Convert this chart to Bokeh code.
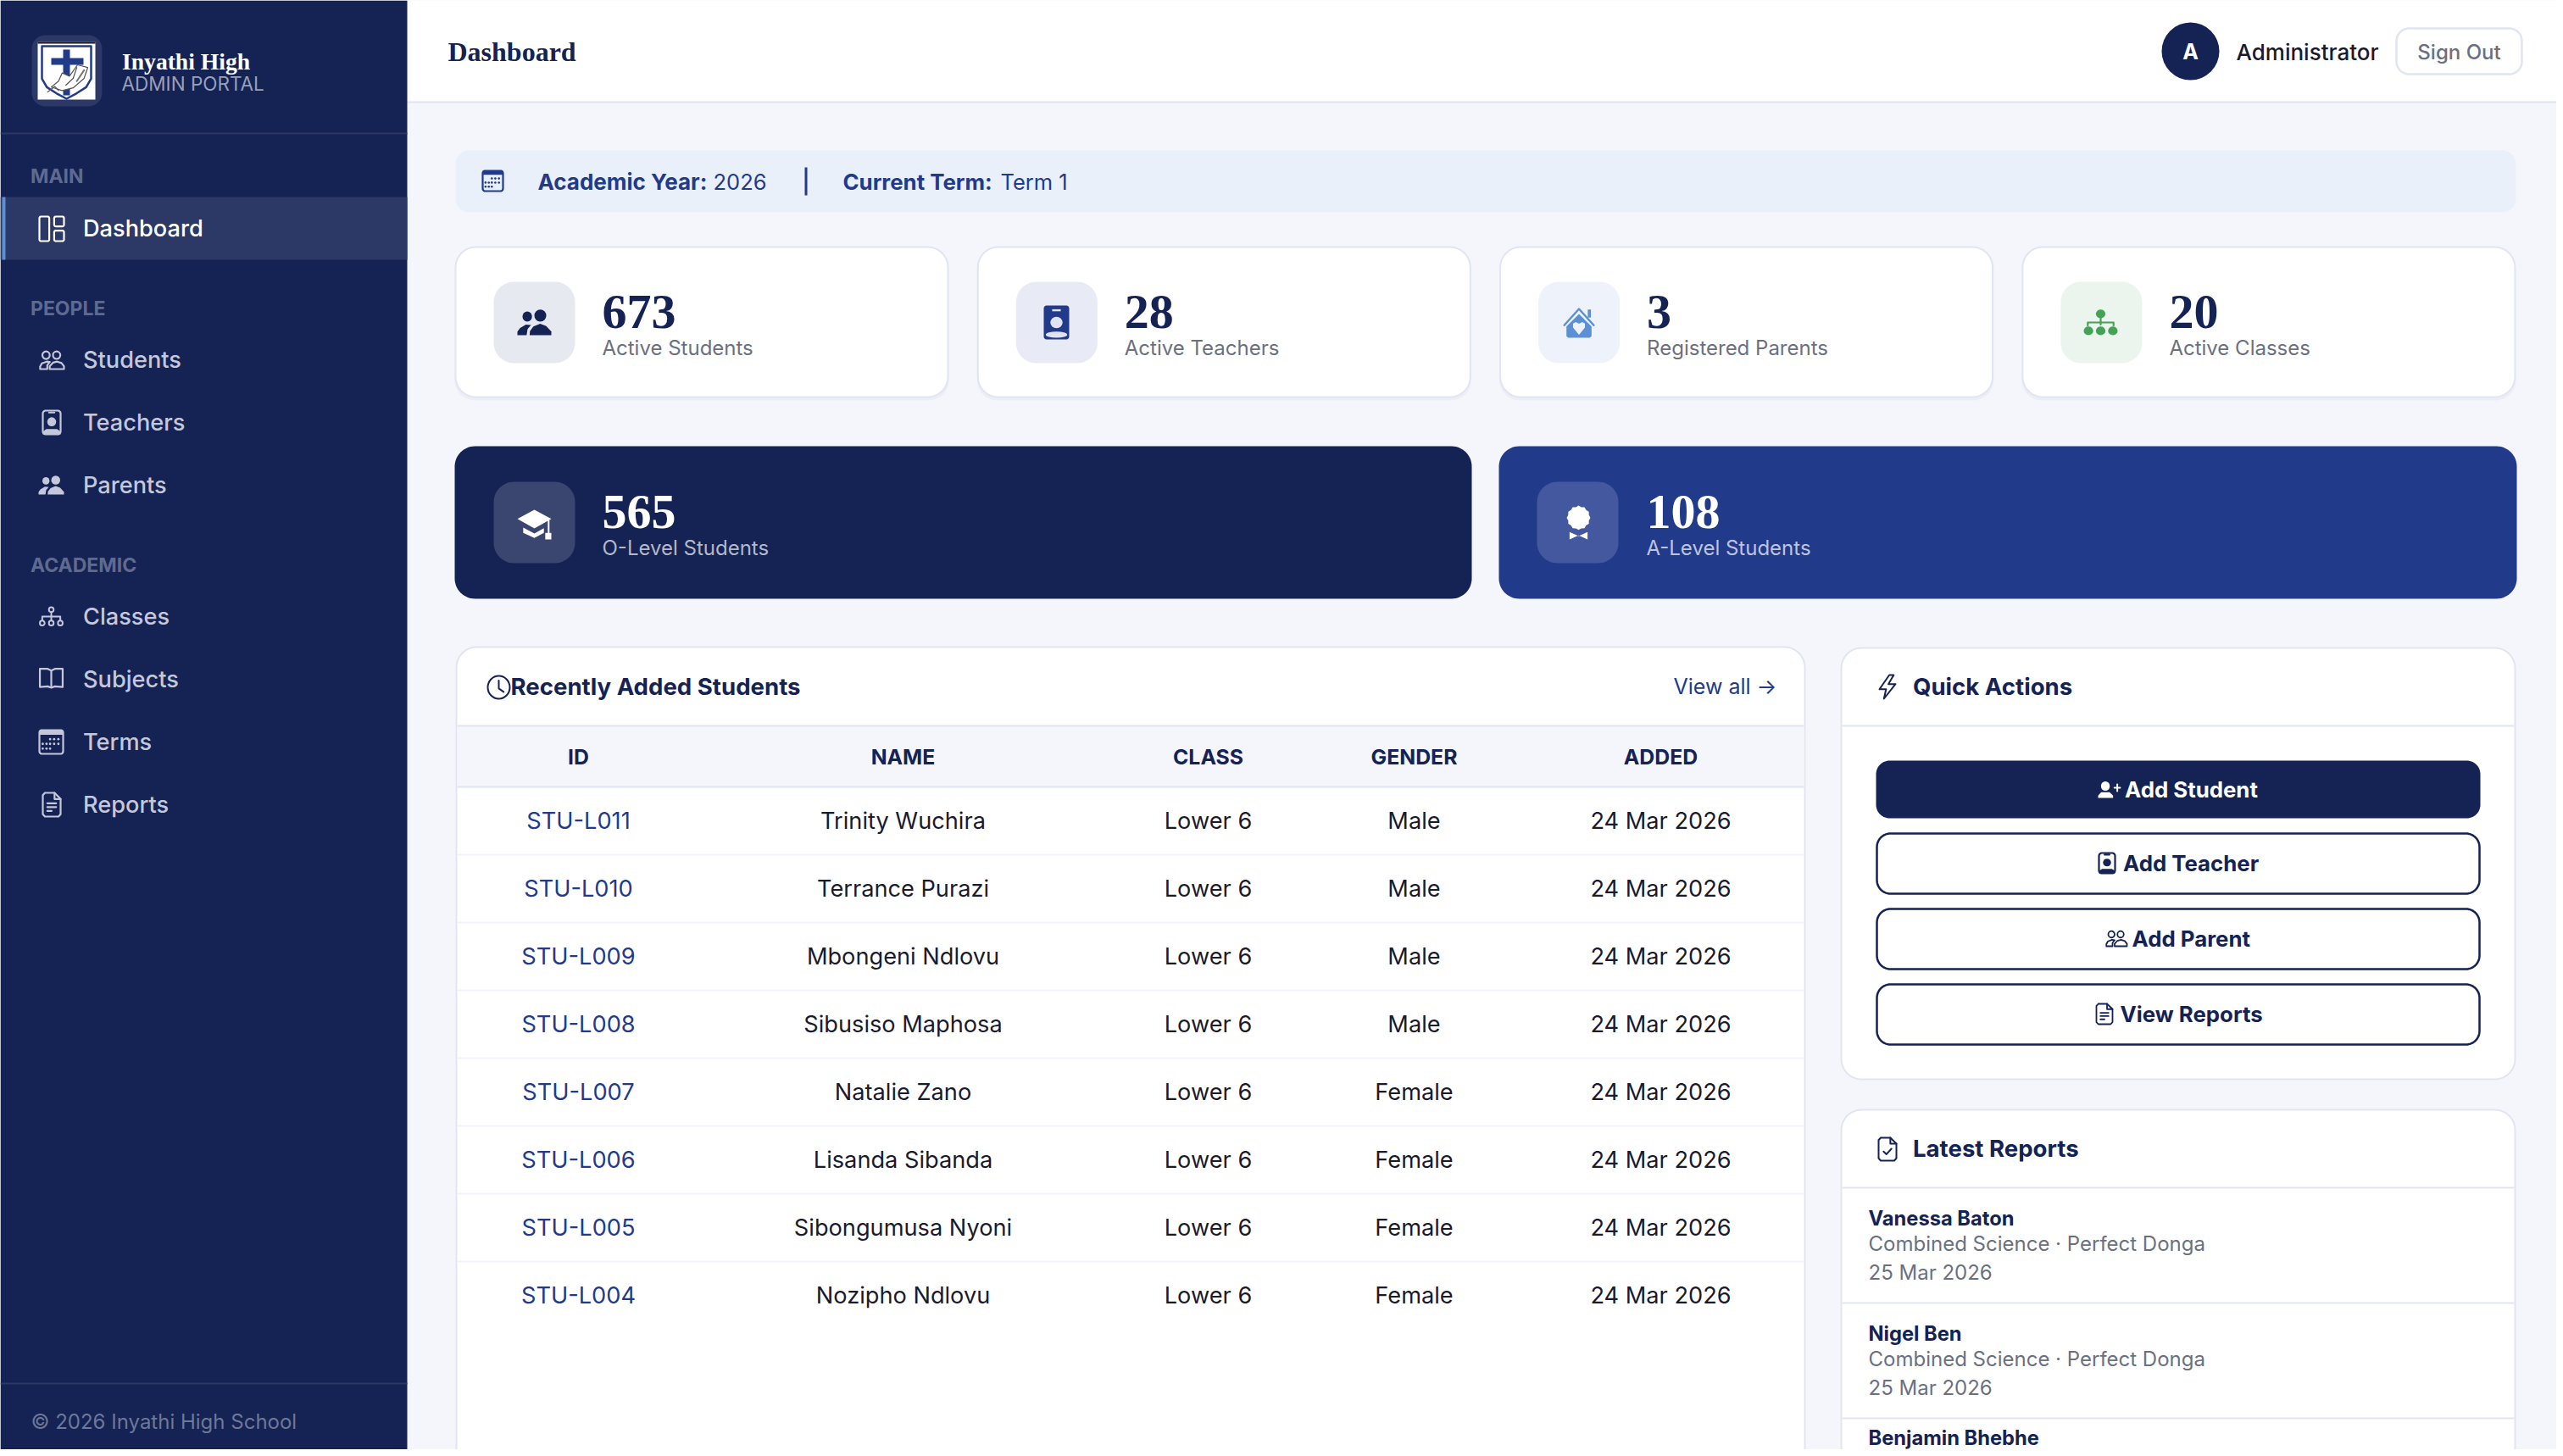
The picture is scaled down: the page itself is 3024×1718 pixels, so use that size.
import math
from bokeh.plotting import figure
from bokeh.models import Range1d
from bokeh.core.properties import value
from bokeh.embed import file_html
from bokeh.resources import INLINE

# ---------- content ----------
nav_main = ["Dashboard"]
nav_people = ["Students", "Teachers", "Parents"]
nav_academic = ["Classes", "Subjects", "Terms", "Reports"]
section_labels = ["MAIN", "PEOPLE", "ACADEMIC"]
stat_values = [673, 28, 3, 20]
stat_labels = ["Active Students", "Active Teachers", "Registered Parents", "Active Classes"]
level_values = [565, 108]
level_labels = ["O-Level Students", "A-Level Students"]
table_columns = ["ID", "NAME", "CLASS", "GENDER", "ADDED"]
student_ids = ["STU-L011", "STU-L010", "STU-L009", "STU-L008", "STU-L007", "STU-L006", "STU-L005", "STU-L004"]
student_names = ["Trinity Wuchira", "Terrance Purazi", "Mbongeni Ndlovu", "Sibusiso Maphosa",
                 "Natalie Zano", "Lisanda Sibanda", "Sibongumusa Nyoni", "Nozipho Ndlovu"]
student_classes = ["Lower 6"] * 8
student_genders = ["Male", "Male", "Male", "Male", "Female", "Female", "Female", "Female"]
student_added = ["24 Mar 2026"] * 8
action_labels = ["Add Student", "Add Teacher", "Add Parent", "View Reports"]
report_students = ["Vanessa Baton", "Nigel Ben", "Benjamin Bhebhe"]
report_subjects = ["Combined Science · Perfect Donga", "Combined Science · Perfect Donga", ""]
report_dates = ["25 Mar 2026", "25 Mar 2026", ""]

# ---------- style ----------
NAVY = "#142254"; BLUE = "#223A8A"; BG = "#F4F6FB"; EDGE = "#E1E5F1"; ACTIVE = "#2C3865"
INK = "#1A1A2E"; GREY = "#6B7080"; SKY = "#5B8FD6"; GREEN = "#43A255"; ROWLINE = "#F1F3F9"
SHADOW = "#ECEEF6"
SANS = "Inter"; MED = "Inter Medium"; SERIF = "Liberation Serif"
W, H = 3016, 1710
BASE_K = 0.33

p = figure(width=W, height=H, output_backend="svg", toolbar_location=None,
           x_range=Range1d(0, W), y_range=Range1d(H, 0),
           x_axis_type=None, y_axis_type=None, min_border=0, outline_line_color=None,
           background_fill_color=BG, border_fill_color=BG)
p.grid.visible = False


def arc(cx, cy, rx, ry, a0, a1, n=14):
    out = []
    for i in range(n + 1):
        a = math.radians(a0 + (a1 - a0) * i / n)
        out.append((cx + rx * math.cos(a), cy + ry * math.sin(a)))
    return out


def poly(pts, fill=None, line=None, lw=1):
    p.patch([q[0] for q in pts], [q[1] for q in pts], fill_color=fill, line_color=line,
            line_width=lw, line_join="round")


def path(pts, color, lw=2):
    p.line([q[0] for q in pts], [q[1] for q in pts], line_color=color, line_width=lw,
           line_cap="round", line_join="round")


def rr(x0, y0, x1, y1, r, fill=None, line=None, lw=1):
    pts = (arc(x0 + r, y0 + r, r, r, 180, 270) + arc(x1 - r, y0 + r, r, r, 270, 360) +
           arc(x1 - r, y1 - r, r, r, 0, 90) + arc(x0 + r, y1 - r, r, r, 90, 180))
    poly(pts, fill, line, lw)


def oval(cx, cy, rx, ry=None, fill=None, line=None, lw=1):
    p.ellipse(x=[cx], y=[cy], width=[2 * rx], height=[2 * (ry or rx)], fill_color=fill,
              line_color=line, line_width=lw)


def band(x0, y0, x1, y1, fill):
    p.quad(left=[x0], right=[x1], top=[y0], bottom=[y1], fill_color=fill, line_color=None)


def txt(x, yc, s, size, color, font=SANS, bold=False, align="left", base=None):
    y = base if base is not None else yc + 0.36 * size
    y -= BASE_K * size
    p.text(x=[x], y=[y], text=[s], text_font=value(font), text_font_size=f"{size}px", text_color=color,
           text_font_style="bold" if bold else "normal", text_align=align, text_baseline="alphabetic")


class B:
    def __init__(s, x0, y0, x1, y1):
        s.x0, s.y0, s.w, s.h = x0, y0, x1 - x0, y1 - y0

    def __call__(s, u, v):
        return (s.x0 + s.w * u, s.y0 + s.h * v)

    def pts(s, seq):
        return [s(u, v) for u, v in seq]


# ---------- icons (unit-box drawings) ----------
def ic_people_fill(b, c, bg=None):
    cx, cy = b(.29, .27); oval(cx, cy, .14 * b.w, .2 * b.h, fill=c)
    cx, cy = b(.675, .23); oval(cx, cy, .175 * b.w, .24 * b.h, fill=c)
    poly(b.pts([(0, 1), (0, .86), (.08, .72), (.25, .58), (.4, .6), (.3, .76), (.27, 1)]), fill=c)
    poly(b.pts([(.36, 1), (.37, .84), (.47, .66), (.67, .55), (.85, .64), (1, .86), (1, 1)]), fill=c)


def ic_people_line(b, c, lw=2.2):
    cx, cy = b(.27, .22); oval(cx, cy, .15 * b.w, .21 * b.h, line=c, lw=lw)
    cx, cy = b(.7, .22); oval(cx, cy, .15 * b.w, .21 * b.h, line=c, lw=lw)
    path(b.pts([(.03, 1), (.03, .86), (.1, .68), (.3, .58), (.42, .6), (.32, .78), (.32, 1), (.03, 1)]), c, lw)
    path(b.pts([(.42, 1), (.42, .84), (.55, .64), (.72, .58), (.9, .66), (1, .84), (1, 1), (.42, 1)]), c, lw)


def ic_badge_line(b, c, lw=2.2):
    rr(b.x0, b.y0, b.x0 + b.w, b.y0 + b.h, 3.5, line=c, lw=lw)
    path(b.pts([(.35, .08), (.65, .08)]), c, lw)
    cx, cy = b(.5, .47); oval(cx, cy, .25 * b.w, .19 * b.h, fill=c)
    poly(b.pts([(0, 1), (0, .88), (.2, .78), (.8, .78), (1, .88), (1, 1)]), fill=c)


def ic_badge_fill(b, c, light):
    rr(b.x0, b.y0, b.x0 + b.w, b.y0 + b.h, 3.5, fill=c)
    band(*b(.33, .11), *b(.67, .17), light)
    cx, cy = b(.5, .5); oval(cx, cy, .24 * b.w, .17 * b.h, fill=light)
    cx, cy = b(.5, .86); oval(cx, cy, .42 * b.w, .09 * b.h, fill=light)


def ic_house(b, c):
    path(b.pts([(.03, .58), (.5, .03), (.97, .58)]), c, 2.4)
    band(*b(.78, .05), *b(.88, .32), c)
    poly(b.pts([(.5, .2), (.9, .62), (.9, .95), (.84, 1), (.16, 1), (.1, .95), (.1, .62)]), fill=c)
    poly(b.pts([(.5, .9), (.31, .66), (.31, .52), (.4, .47), (.5, .53), (.6, .47), (.69, .52), (.69, .66)]),
         fill="#EEF3FB")


def ic_tree_fill(b, c):
    cx, cy = b(.5, .16); oval(cx, cy, .14 * b.w, .17 * b.h, fill=c)
    path(b.pts([(.5, .3), (.5, .58)]), c, 2.2)
    path(b.pts([(.12, .62), (.12, .5), (.88, .5), (.88, .62)]), c, 2.2)
    for u in (.14, .5, .86):
        cx, cy = b(u, .83); oval(cx, cy, .14 * b.w, .17 * b.h, fill=c)


def ic_tree_line(b, c, lw=2):
    cx, cy = b(.5, .13); oval(cx, cy, .1 * b.w, .13 * b.h, line=c, lw=lw)
    path(b.pts([(.5, .26), (.5, .68)]), c, lw)
    path(b.pts([(.12, .68), (.12, .5), (.88, .5), (.88, .68)]), c, lw)
    for u in (.12, .5, .88):
        cx, cy = b(u, .85); oval(cx, cy, .1 * b.w, .13 * b.h, line=c, lw=lw)


def ic_cap(b, c):
    poly(b.pts([(.5, 0), (1, .31), (.5, .63), (0, .31)]), fill=c)
    poly(b.pts([(.17, .6), (.5, .8), (.78, .62), (.78, .78), (.5, .95), (.17, .78)]), fill=c)
    path(b.pts([(.92, .36), (.92, .8)]), c, 2)
    band(*b(.82, .78), *b(1, 1), c)


def ic_award(b, c):
    cx, cy = b(.5, .36)
    pts = []
    for i in range(24):
        a = math.radians(15 * i)
        k = 1.0 if i % 2 == 0 else .9
        pts.append((cx + k * .5 * b.w * math.cos(a), cy + k * .36 * b.h * math.sin(a)))
    poly(pts, fill=c)
    poly(b.pts([(.12, .78), (.5, .9), (.88, .78), (.88, 1), (.5, .88), (.12, 1)]), fill=c)


def ic_calendar(b, c, lw=2.2):
    rr(b.x0, b.y0, b.x0 + b.w, b.y0 + b.h, 3, line=c, lw=lw)
    band(*b(0, 0), *b(1, .2), c)
    for v, us in ((.38, (.45, .62, .8)), (.58, (.14, .3, .45, .62, .8)), (.78, (.14, .3, .45))):
        for u in us:
            cx, cy = b(u, v); oval(cx, cy, max(1.3, .05 * b.w), fill=c)


def ic_book(b, c, lw=2.2):
    path(b.pts([(.5, .12), (.35, .03), (.02, .03), (.02, .96), (.35, .93), (.5, 1), (.65, .93), (.98, .96),
                (.98, .03), (.65, .03), (.5, .12), (.5, 1)]), c, lw)


def ic_file(b, c, lw=2.2, check=False):
    path(b.pts([(.12, 0), (.66, 0), (1, .26), (1, .9), (.88, 1), (.12, 1), (0, .9), (0, .1), (.12, 0)]), c, lw)
    path(b.pts([(.66, 0), (.66, .26), (1, .26)]), c, lw)
    if check:
        path(b.pts([(.28, .6), (.44, .72), (.72, .48)]), c, lw)
    else:
        for v, e in ((.44, .75), (.6, .75), (.76, .5)):
            path(b.pts([(.25, v), (e, v)]), c, lw)


def ic_layout(b, c, lw=2.2):
    rr(*b(0, 0), *b(.4, 1), 2, line=c, lw=lw)
    rr(*b(.6, 0), *b(1, .4), 2, line=c, lw=lw)
    rr(*b(.6, .57), *b(1, 1), 2, line=c, lw=lw)


def ic_bolt(b, c, lw=2):
    poly(b.pts([(.6, 0), (.05, .6), (.42, .6), (.3, 1), (.95, .38), (.55, .38), (.85, 0)]), line=c, lw=lw)


def ic_clock(b, c, lw=2):
    cx, cy = b(.5, .5); oval(cx, cy, .5 * b.w, .5 * b.h, line=c, lw=lw)
    path(b.pts([(.5, .2), (.5, .55), (.72, .7)]), c, lw)


def ic_person_plus(b, c):
    cx, cy = b(.33, .3); oval(cx, cy, .2 * b.w, .28 * b.h, fill=c)
    poly(b.pts([(0, 1), (0, .86), (.14, .66), (.52, .66), (.68, .86), (.68, 1)]), fill=c)
    path(b.pts([(.74, .4), (1, .4)]), c, 2)
    path(b.pts([(.87, .2), (.87, .6)]), c, 2)


def logo():
    rr(37, 41, 120, 125, 16, fill=ACTIVE)
    band(44, 49, 112, 117, "#FFFFFF")
    band(44, 49, 112, 51, "#151515")
    s = B(49, 54, 107, 116)
    poly(s.pts([(0, 0), (1, 0), (1, .62), (.9, .78), (.7, .9), (.5, 1), (.3, .9), (.1, .78), (0, .62)]),
         line=BLUE, lw=2.5)
    band(74, 58, 82, 112, BLUE)
    band(60, 68, 98, 76, BLUE)
    d = B(60, 76, 103, 108)
    poly(d.pts([(1, .1), (.9, .5), (.6, .85), (.3, .95), (0, .82), (.2, .6), (.3, .3), (.5, .42), (.72, 0)]),
         fill="#FFFFFF", line="#555555", lw=1.2)
    path(d.pts([(.7, .1), (.6, .5), (.4, .75)]), "#555555", 1.2)
    path(d.pts([(.9, .2), (.7, .6)]), "#777777", 2)
    path(d.pts([(-.1, 1.0), (.1, .8), (.2, .95)]), "#555555", 1.2)


# ---------- chrome ----------
band(480, 0, W, 120, "#FFFFFF")
band(480, 119, W, 121, "#DFE3F0")
band(0, 0, 480, H, NAVY)
logo()
txt(143.5, None, "Inyathi High", 27.6, "#FFFFFF", SERIF, True, base=81)
txt(143, None, "ADMIN PORTAL", 22.5, "#9AA0B8", SANS, base=105)
band(0, 156, 480, 158, ACTIVE)
band(0, 1631, 480, 1633, ACTIVE)
txt(36, 1676.5, "© 2026 Inyathi High School", 24, "#6E7898", SANS)
txt(528, None, "Dashboard", 32, NAVY, SERIF, True, base=71.5)

# sidebar navigation
band(0, 232, 480, 306, ACTIVE)
band(2, 232, 6, 306, SKY)
NAVC = "#C4C8DA"
for lab, yc in zip(section_labels, (207, 362.5, 665.5)):
    txt(35.5, yc, lab, 23, "#5F6A90", SANS, True)
NAV_X = 97.5
for lab, yc in zip(nav_main, (268,)):
    txt(NAV_X, yc, lab, 27.2, "#FFFFFF", MED)
for lab, yc in zip(nav_people, (423, 497, 571)):
    txt(NAV_X, yc, lab, 27.2, NAVC, MED)
for lab, yc in zip(nav_academic, (726, 800, 874, 948)):
    txt(NAV_X, yc, lab, 27.2, NAVC, MED)
ic_layout(B(46, 255, 75, 284), "#FFFFFF")
ic_people_line(B(46, 414, 75, 435), NAVC)
ic_badge_line(B(50, 484, 71, 512), NAVC)
ic_people_fill(B(45, 561, 75, 583), NAVC)
ic_tree_line(B(46, 716, 74, 738), NAVC)
ic_book(B(46, 788, 74, 811), NAVC)
ic_calendar(B(46, 861, 74, 889), NAVC)
ic_file(B(50, 935, 71, 963), NAVC)

# user area
oval(2584, 60, 34, fill=NAVY)
txt(2584, 60, "A", 25, "#FFFFFF", SANS, True, align="center")
txt(2638, 60, "Administrator", 26, INK, MED)
rr(2827, 33, 2975, 87, 15, fill="#FFFFFF", line=EDGE, lw=2.5)
txt(2901, 60, "Sign Out", 24, GREY, MED, align="center")

# academic banner
rr(537, 177, 2968, 250, 16, fill="#E9F0FA")
ic_calendar(B(569, 201, 593, 225), BLUE)
txt(634, 213, "Academic Year:", 26, BLUE, SANS, True)
txt(841, 213, "2026", 25.5, BLUE)
band(949, 197, 952, 230, BLUE)
txt(994, 213, "Current Term:", 25.8, BLUE, SANS, True)
txt(1180, 213, "Term 1", 25.5, BLUE)

# stat cards
CARD_W, CARD_STEP, CARD_X = 581, 616.3, 537
tints = ["#E7E9F0", "#E8EBF5", "#EEF3FB", "#EBF5EE"]
for i, (val, lab) in enumerate(zip(stat_values, stat_labels)):
    x = CARD_X + i * CARD_STEP
    rr(x - 1, 293, x + CARD_W + 1, 472, 24, fill=SHADOW)
    rr(x, 291, x + CARD_W, 468, 24, fill="#FFFFFF", line=EDGE, lw=2)
    rr(x + 45, 332, x + 141, 428, 24, fill=tints[i])
    txt(x + 173, None, str(val), 58, NAVY, SERIF, True, base=387)
    txt(x + 173, 409.5, lab, 24, GREY)
ic_people_fill(B(610, 365, 650, 395), NAVY)
ic_badge_fill(B(1231, 360, 1261, 400), BLUE, "#DFE3F5")
ic_house(B(1844, 363, 1881, 398), SKY)
ic_tree_fill(B(2458, 365, 2498, 395), GREEN)

# level cards
LV_X = (536, 1768)
LV_W = (1200, 1201)
lv_fill = (NAVY, BLUE)
lv_tint = ("#3A4570", "#4458A0")
lv_text = ("#B4B8C8", "#BCC4E0")
for i, (val, lab) in enumerate(zip(level_values, level_labels)):
    x = LV_X[i]
    rr(x, 526, x + LV_W[i], 706, 24, fill=lv_fill[i])
    rr(x + 46 - i, 568, x + 142 - i, 664, 24, fill=lv_tint[i])
    txt(x + 174, None, str(val), 58, "#FFFFFF", SERIF, True, base=623)
    txt(x + 174, 645.5, lab, 24, lv_text[i])
ic_cap(B(610, 601, 650, 636), "#FFFFFF")
ic_award(B(1848, 596, 1876, 636), "#FFFFFF")

# recent students table
rr(538, 763, 2129, 1790, 24, fill="#FFFFFF", line=EDGE, lw=2)
band(539, 855, 2128, 928, BG)
band(539, 855, 2128, 857, EDGE)
band(539, 927, 2128, 929, EDGE)
ic_clock(B(575, 797, 601, 824), NAVY)
txt(602, 809, "Recently Added Students", 27.6, NAVY, SANS, True)
txt(1974, 809, "View all →", 25, BLUE)
COL_X = (682, 1065, 1425, 1668, 1959)
for cx, lab in zip(COL_X, table_columns):
    txt(cx, 891.5, lab, 24.8, NAVY, SANS, True, align="center")
ROW0, ROW_H = 967, 80
for r, row in enumerate(zip(student_ids, student_names, student_classes, student_genders, student_added)):
    yc = ROW0 + r * ROW_H
    if r < len(student_ids) - 1:
        band(539, yc + 40, 2128, yc + 42, ROWLINE)
    for c, (cx, val) in enumerate(zip(COL_X, row)):
        txt(cx, yc, val, 27.2, BLUE if c == 0 else INK, align="center")

# quick actions
rr(2172, 764, 2967, 1273, 24, fill="#FFFFFF", line=EDGE, lw=2)
band(2173, 855, 2966, 857, EDGE)
ic_bolt(B(2216, 796, 2237, 824), NAVY)
txt(2256.5, 809, "Quick Actions", 27.6, NAVY, SANS, True)
BTN_Y = ((897, 965), (983, 1054), (1072, 1143), (1161, 1232))
for i, (lab, (y0, y1)) in enumerate(zip(action_labels, BTN_Y)):
    if i == 0:
        rr(2213, y0, 2926, y1, 16, fill=NAVY)
    else:
        rr(2214, y0, 2925, y1, 16, fill="#FFFFFF", line=NAVY, lw=2.5)
    tx = (2506.5, 2504.5, 2515, 2501)[i]
    txt(tx, (y0 + y1) / 2 - 1, lab, 25.8, "#FFFFFF" if i == 0 else NAVY, SANS, True)
ic_person_plus(B(2475, 921, 2501, 941), "#FFFFFF")
ic_badge_line(B(2476, 1006, 2495, 1030), NAVY)
ic_people_line(B(2484, 1098, 2509, 1116), NAVY, 1.8)
ic_file(B(2473, 1184, 2492, 1208), NAVY, 1.8)

# latest reports
rr(2172, 1309, 2967, 1790, 24, fill="#FFFFFF", line=EDGE, lw=2)
band(2173, 1400, 2966, 1402, EDGE)
ic_file(B(2216, 1342, 2237, 1369), NAVY, 2, check=True)
txt(2256.5, 1354, "Latest Reports", 27.6, NAVY, SANS, True)
REP0, REP_H = 1436, 136
for i, (name, subj, dt) in enumerate(zip(report_students, report_subjects, report_dates)):
    y = REP0 + i * REP_H
    txt(2204, min(y, 1695), name, 23.7, NAVY, SANS, True)
    if subj:
        txt(2204, y + 30, subj, 24, GREY)
        txt(2204, y + 64, dt, 24, GREY)
        band(2173, y + 100, 2966, y + 102, EDGE)

open("out.html", "w").write(file_html(p, INLINE))
